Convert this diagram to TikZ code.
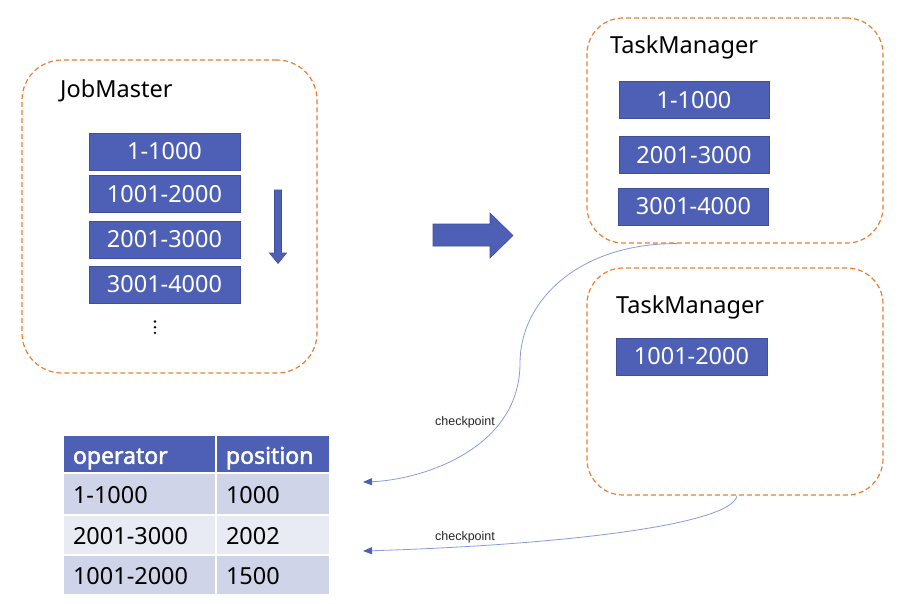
\documentclass[tikz,border=0pt]{standalone}
\usepackage{fontspec}
\setmainfont{Noto Sans}
\newfontfamily\headfont[FakeBold=2.2]{Noto Sans}
\newfontfamily\labfont{Liberation Sans}
\usetikzlibrary{arrows.meta}
\definecolor{boxblue}{RGB}{78,96,181}
\definecolor{boxedge}{RGB}{62,80,152}
\definecolor{dashor}{RGB}{237,125,49}
\definecolor{rowA}{RGB}{207,212,233}
\definecolor{rowB}{RGB}{232,234,244}
\definecolor{curveblue}{RGB}{135,155,218}
\tikzset{
  container/.style={draw=dashor, dash pattern=on 5pt off 3pt, line width=1.2pt, rounded corners=40pt, inner sep=0pt},
  titletext/.style={font=\fontsize{23.5}{23.5}\selectfont, text=black, inner sep=0pt, anchor=base west},
  rangebox/.style={draw=boxedge, line width=0.6pt, fill=boxblue, text=white, minimum width=151pt, minimum height=37pt, inner sep=0pt, font=\fontsize{23.5}{23.5}\selectfont},
  cell/.style={draw=white, line width=1.6pt, inner ysep=0pt, inner xsep=10pt, align=left, text height=24pt, text depth=4.5pt, font=\fontsize{23.5}{23.5}\selectfont},
  headcell/.style={cell, fill=boxblue, text=white, font=\headfont\fontsize{23}{23}\selectfont},
  colone/.style={text width=133pt},
  coltwo/.style={text width=94pt},
  ckline/.style={draw=curveblue, line width=0.8pt, -{Triangle[length=9pt,width=7pt,color=boxblue]}},
  cklabel/.style={font=\labfont\fontsize{12.5}{12.5}\selectfont, text=black!85, inner sep=0pt},
  bigarrow/.style={fill=boxblue, draw=boxedge, line width=0.6pt}
}
\begin{document}
\begin{tikzpicture}[x=1pt,y=-1pt]
\useasboundingbox (0,0) rectangle (910,603);
% JobMaster
\node[container, minimum width=295pt, minimum height=313pt] (jm) at (169.5,216.5) {};
\node[titletext] (jmt) at (60,97) {JobMaster};
\node[rangebox] (j1) at (164.5,151.5) {1-1000};
\node[rangebox] (j2) at (164.5,194) {1001-2000};
\node[rangebox] (j3) at (164.5,239.5) {2001-3000};
\node[rangebox] (j4) at (164.5,284.5) {3001-4000};
\fill (155,321.5) circle (1.3pt) (155,327.2) circle (1.3pt) (155,332.9) circle (1.3pt);
% down arrow
\path[bigarrow] (274.5,190) -- (281.5,190) -- (281.5,253) -- (286.5,253) -- (278,263.5) -- (269.5,253) -- (274.5,253) -- cycle;
% right arrow
\path[bigarrow] (433,224) -- (490,224) -- (490,213) -- (513,235.5) -- (490,258) -- (490,246) -- (433,246) -- cycle;
% TaskManager 1
\node[container, rounded corners=36pt, minimum width=296pt, minimum height=225pt] (tm1) at (735,130.5) {};
\node[titletext] (tm1t) at (610,53) {TaskManager};
\node[rangebox, minimum width=150pt] (t1) at (694,100) {1-1000};
\node[rangebox, minimum width=150pt] (t2) at (694,155) {2001-3000};
\node[rangebox, minimum width=150pt] (t3) at (693.5,206.5) {3001-4000};
% TaskManager 2
\node[container, rounded corners=36pt, minimum width=296pt, minimum height=227pt] (tm2) at (735,381.5) {};
\node[titletext] (tm2t) at (616,313) {TaskManager};
\node[rangebox] (t4) at (691.5,356.5) {1001-2000};
% table
\node[headcell, colone, minimum height=38pt] (h1) at (139.5,454) {operator};
\node[headcell, coltwo, minimum height=38pt] (h2) at (273,454) {position};
\node[cell, colone, fill=rowA, minimum height=41pt] (a1) at (139.5,494) {1-1000};
\node[cell, coltwo, fill=rowA, minimum height=41pt] (a2) at (273,494) {1000};
\node[cell, colone, fill=rowB, minimum height=40pt] (b1) at (139.5,535) {2001-3000};
\node[cell, coltwo, fill=rowB, minimum height=40pt] (b2) at (273,535) {2002};
\node[cell, colone, fill=rowA, minimum height=40pt] (c1) at (139.5,575) {1001-2000};
\node[cell, coltwo, fill=rowA, minimum height=40pt] (c2) at (273,575) {1500};
% checkpoints
\coordinate (ck1end) at (363,482);
\coordinate (ck2end) at (363,551);
\draw[ckline] ([xshift=-58pt]tm1.south) .. controls (580,243) and (520,300) .. (520,363) .. controls (520,450) and (420,480) .. (ck1end);
\draw[ckline] ([xshift=2pt]tm2.south) .. controls (732,525) and (560,545) .. (ck2end);
\node[cklabel] (ck1) at (465,422) {checkpoint};
\node[cklabel] (ck2) at (465,537) {checkpoint};
\end{tikzpicture}
\end{document}
